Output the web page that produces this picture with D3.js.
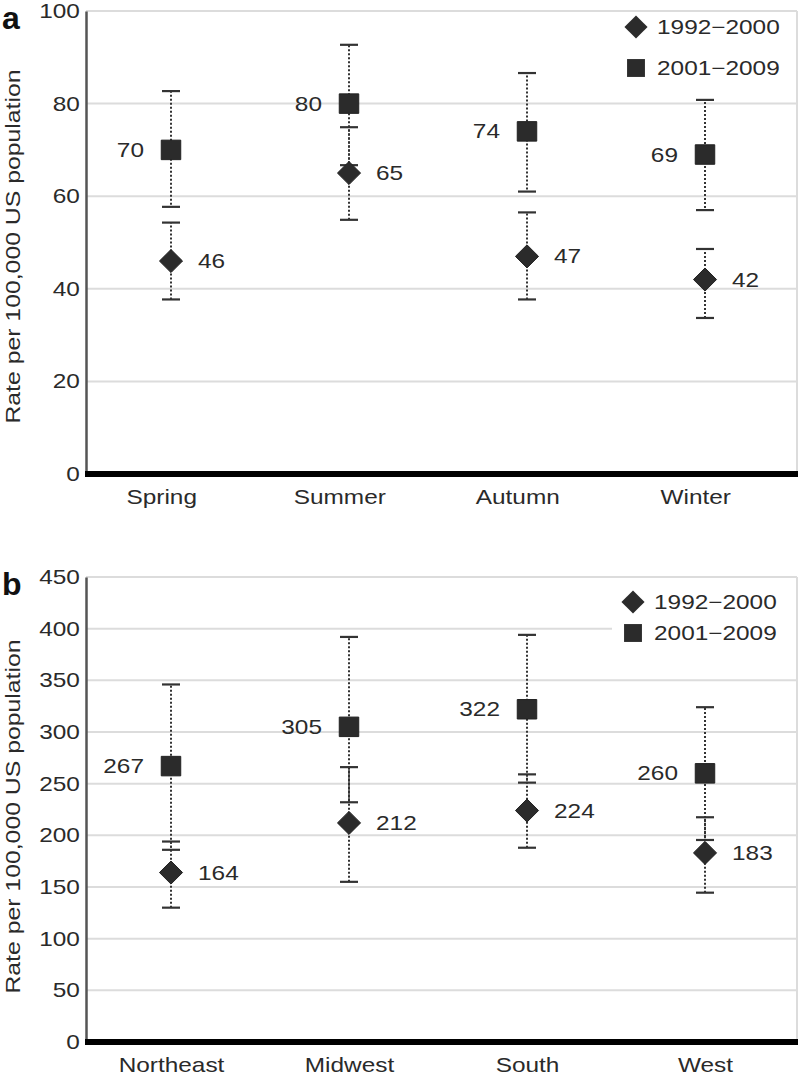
<!DOCTYPE html>
<html><head><meta charset="utf-8">
<script src="https://cdn.jsdelivr.net/npm/d3@7"></script>
<style>
html,body{margin:0;padding:0;background:#fff;}
svg{display:block;font-family:"Liberation Sans",Arial,Helvetica,sans-serif;}
</style></head><body>
<svg id="chart" width="799" height="1078"></svg>
<script>
// ---- Panel a data (by season) ----
const seasons = ["Spring", "Summer", "Autumn", "Winter"];
const seasonRate1992 = [46, 65, 47, 42];
const seasonLow1992  = [37.7, 54.9, 37.7, 33.7];
const seasonHigh1992 = [54.3, 74.9, 56.5, 48.6];
const seasonRate2001 = [70, 80, 74, 69];
const seasonLow2001  = [57.7, 66.7, 61.0, 57.0];
const seasonHigh2001 = [82.7, 92.7, 86.6, 80.8];
const seasonTicks = [0, 20, 40, 60, 80, 100];

// ---- Panel b data (by region) ----
const regions = ["Northeast", "Midwest", "South", "West"];
const regionRate1992 = [164, 212, 224, 183];
const regionLow1992  = [130, 155, 188, 144.5];
const regionHigh1992 = [194, 266, 259, 217.5];
const regionRate2001 = [267, 305, 322, 260];
const regionLow2001  = [186, 232, 251, 195.5];
const regionHigh2001 = [346, 392, 394, 324];
const regionTicks = [0, 50, 100, 150, 200, 250, 300, 350, 400, 450];

const seriesNames = ["1992\u22122000", "2001\u22122009"];
const yTitle = "Rate per 100,000 US population";

const svg = d3.select("#chart");
const ink = "#2a2a2a";
const FS = 20, SX = 1.22;

function styleText(sel) {
  return sel.attr("font-size", FS).attr("fill", ink)
    .attr("font-family", "Liberation Sans, Arial, sans-serif");
}

function panel(opt) {
  const g = svg.append("g");
  const L = 86, R = 797;
  const y = d3.scaleLinear().domain([0, opt.max]).range([opt.bottom, opt.top]);
  const x = d3.scalePoint().domain(opt.cats).range([82, 794]).padding(0.5);

  // gridlines
  g.append("g").selectAll("line").data(opt.ticks.filter(t => t > 0)).join("line")
    .attr("x1", L).attr("x2", R)
    .attr("y1", d => y(d)).attr("y2", d => y(d))
    .attr("stroke", "#dcdcdc").attr("stroke-width", 2);
  // right border
  g.append("line").attr("x1", R).attr("x2", R).attr("y1", opt.top).attr("y2", opt.bottom)
    .attr("stroke", "#dcdcdc").attr("stroke-width", 2);

  // legend background box
  if (opt.legendBox) {
    g.append("rect").attr("x", 612).attr("y", opt.top + 2).attr("width", R - 613)
      .attr("height", 84).attr("fill", "#fff");
  }

  // y axis
  const yAxis = d3.axisLeft(y).tickValues(opt.ticks).tickSize(0).tickPadding(5);
  const ya = g.append("g").attr("transform", `translate(${L},0)`).call(yAxis);
  ya.select(".domain").attr("stroke", "#555").attr("stroke-width", 2.5);
  styleText(ya.selectAll("text")).attr("transform", `scale(${SX},1)`);

  // x axis
  const xAxis = d3.axisBottom(x).tickSize(0).tickPadding(16);
  const xa = g.append("g").attr("transform", `translate(0,${opt.bottom})`).call(xAxis);
  xa.select(".domain").remove();
  styleText(xa.selectAll("text")).attr("dx", opt.labelShift).attr("transform", `scale(${SX},1)`);
  g.append("line").attr("x1", L - 1).attr("x2", R + 1)
    .attr("y1", opt.bottom).attr("y2", opt.bottom)
    .attr("stroke", "#000").attr("stroke-width", 6);

  // y title
  styleText(g.append("text"))
    .attr("transform", `translate(20,${(opt.top + opt.bottom) / 2 + opt.titleShift}) rotate(-90) scale(1.24,1)`)
    .attr("text-anchor", "middle")
    .text(yTitle);

  // panel letter
  g.append("text").attr("x", 2).attr("y", opt.letterY)
    .attr("font-size", 32).attr("font-weight", "bold").attr("fill", "#111")
    .text(opt.letter);

  const series = [
    {rate: opt.r1, lo: opt.lo1, hi: opt.hi1, shape: d3.symbolDiamond2, size: 340, labelSide: 1},
    {rate: opt.r2, lo: opt.lo2, hi: opt.hi2, shape: d3.symbolSquare, size: 380, labelSide: -1}
  ];

  series.forEach((s, si) => {
    const data = opt.cats.map((c, i) => ({c, v: s.rate[i], lo: s.lo[i], hi: s.hi[i]}));
    const eg = g.append("g");
    eg.selectAll("line.bar").data(data).join("line").attr("class", "bar")
      .attr("x1", d => x(d.c)).attr("x2", d => x(d.c))
      .attr("y1", d => y(d.lo)).attr("y2", d => y(d.hi))
      .attr("stroke", "#333").attr("stroke-width", 2)
      .attr("stroke-dasharray", "2,2")
      .attr("stroke-dashoffset", si === 0 ? 0 : 2);
    ["lo", "hi"].forEach(k => {
      eg.selectAll("line.cap" + k).data(data).join("line").attr("class", "cap" + k)
        .attr("x1", d => x(d.c) - 9).attr("x2", d => x(d.c) + 9)
        .attr("y1", d => y(d[k])).attr("y2", d => y(d[k]))
        .attr("stroke", "#333").attr("stroke-width", 2.2);
    });
  });

  series.forEach(s => {
    const data = opt.cats.map((c, i) => ({c, v: s.rate[i]}));
    g.append("g").selectAll("path").data(data).join("path")
      .attr("transform", d => `translate(${x(d.c)},${y(d.v)})`)
      .attr("d", d3.symbol().type(s.shape).size(s.size))
      .attr("fill", "#2b2b2b").attr("stroke", "#222").attr("stroke-width", 1);
    styleText(g.append("g").selectAll("text").data(data).join("text"))
      .attr("transform", d => `translate(${x(d.c) + (s.labelSide > 0 ? 27 : -27)},${y(d.v)}) scale(${SX},1)`)
      .attr("dy", "0.35em")
      .attr("text-anchor", s.labelSide > 0 ? "start" : "end")
      .text(d => d.v);
  });

  // legend
  const lg = g.append("g");
  const ly = [opt.legendY1, opt.legendY2];
  const shapes = [d3.symbolDiamond2, d3.symbolSquare];
  const sizes = [340, 320];
  seriesNames.forEach((n, i) => {
    lg.append("path").attr("transform", `translate(${opt.legendX},${ly[i]})`)
      .attr("d", d3.symbol().type(shapes[i]).size(sizes[i]))
      .attr("fill", "#2b2b2b");
    styleText(lg.append("text"))
      .attr("transform", `translate(${opt.legendX + 21},${ly[i]}) scale(${SX},1)`)
      .attr("dy", "0.35em").text(n);
  });
}

panel({
  letter: "a", letterY: 29, cats: seasons, max: 100, ticks: seasonTicks, top: 11, bottom: 474,
  r1: seasonRate1992, lo1: seasonLow1992, hi1: seasonHigh1992,
  r2: seasonRate2001, lo2: seasonLow2001, hi2: seasonHigh2001,
  labelShift: -8, titleShift: 4, legendBox: false,
  legendX: 636, legendY1: 27, legendY2: 68
});
panel({
  letter: "b", letterY: 595, cats: regions, max: 450, ticks: regionTicks, top: 577, bottom: 1042,
  r1: regionRate1992, lo1: regionLow1992, hi1: regionHigh1992,
  r2: regionRate2001, lo2: regionLow2001, hi2: regionHigh2001,
  labelShift: 0, titleShift: 7, legendBox: true,
  legendX: 633, legendY1: 602, legendY2: 633
});
</script>
</body></html>
